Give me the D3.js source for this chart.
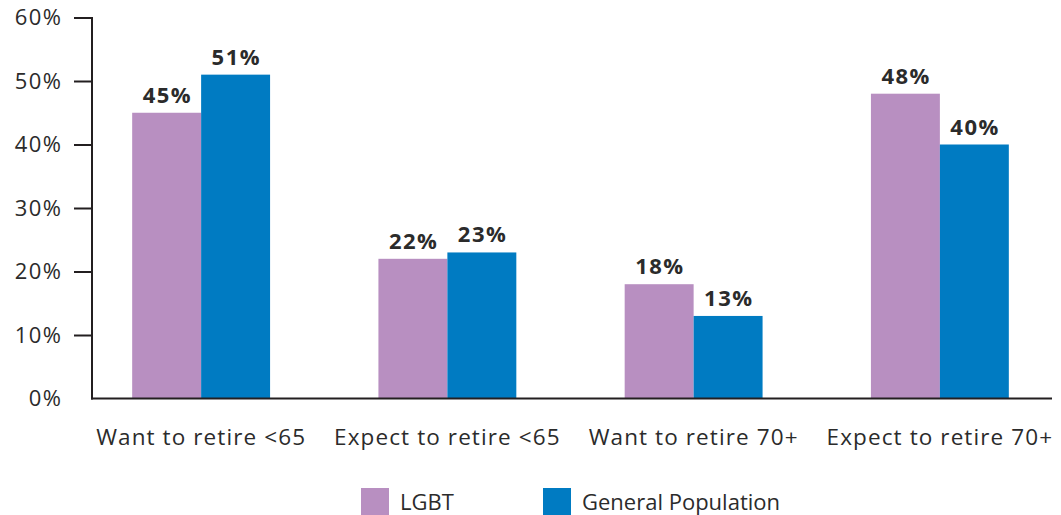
<!DOCTYPE html>
<html><head><meta charset="utf-8">
<script src="https://cdn.jsdelivr.net/npm/d3@7"></script>
<style>body{margin:0;background:#fff}svg{display:block}</style>
</head><body>
<svg id="c" width="1061" height="515"></svg>
<script>
const categories = ["Want to retire <65","Expect to retire <65","Want to retire 70+","Expect to retire 70+"];
const seriesNames = ["LGBT","General Population"];
const lgbt = [45,22,18,48];
const general = [51,23,13,40];
const yTicks = [0,10,20,30,40,50,60];
const colors = ["#b88fc1","#007bc2"];

const svg = d3.select("#c");
const font = "'Open Sans', 'Noto Sans', sans-serif";
const textColor = "#2b2b2b";

const y = d3.scaleLinear().domain([0,60]).range([398.5,17.5]);
const x0 = d3.scaleBand().domain(categories).range([78,1063]).paddingInner(0.44).paddingOuter(0.22);
const x1 = d3.scaleBand().domain(seriesNames).range([0,x0.bandwidth()]);

const data = categories.map((c,i)=>({cat:c, vals:[lgbt[i],general[i]]}));

const g = svg.append("g").selectAll("g").data(data).join("g")
  .attr("transform",d=>`translate(${x0(d.cat)},0)`);
g.selectAll("rect").data(d=>d.vals.map((v,j)=>({v,s:seriesNames[j],j}))).join("rect")
  .attr("x",d=>x1(d.s)).attr("width",x1.bandwidth())
  .attr("y",d=>y(d.v)).attr("height",d=>y(0)-y(d.v))
  .attr("fill",d=>colors[d.j]);
g.selectAll("text").data(d=>d.vals.map((v,j)=>({v,s:seriesNames[j],j}))).join("text")
  .attr("x",d=>x1(d.s)+x1.bandwidth()/2+0.75).attr("y",d=>y(d.v)-10)
  .attr("text-anchor","middle").attr("font-family",font).attr("font-weight","bold")
  .attr("font-size",22).attr("letter-spacing","1.5px").attr("fill",textColor).text(d=>d.v+"%");

// y axis
const yAxis = d3.axisLeft(y).tickValues(yTicks.filter(t=>t>0)).tickSize(18).tickSizeOuter(0).tickFormat(d=>d+"%").tickPadding(11.5);
const ya = svg.append("g").attr("transform","translate(92,0)").call(yAxis);
ya.select(".domain").remove();
ya.selectAll(".tick line").attr("stroke","#231f20").attr("stroke-width",2);
ya.selectAll(".tick text").attr("font-family",font).attr("font-size",22).attr("letter-spacing","1.5px").attr("fill",textColor);
// 0% label without tick
svg.append("text").attr("x",62.5).attr("y",y(0)).attr("dy","0.32em").attr("text-anchor","end")
  .attr("font-family",font).attr("font-size",22).attr("letter-spacing","1.5px").attr("fill",textColor).text(yTicks[0]+"%");
svg.append("line").attr("x1",92).attr("x2",92).attr("y1",y(60)-0.5).attr("y2",y(0)+1)
  .attr("stroke","#231f20").attr("stroke-width",2);

// x axis
const xAxis = d3.axisBottom(x0).tickSize(0).tickPadding(31);
const xa = svg.append("g").attr("transform",`translate(0,${y(0)})`).call(xAxis);
xa.select(".domain").remove();
xa.selectAll(".tick text").attr("font-family",font).attr("font-size",22.5).attr("letter-spacing","1.1px").attr("fill",textColor);
svg.append("line").attr("x1",91).attr("x2",1052).attr("y1",y(0)).attr("y2",y(0))
  .attr("stroke","#231f20").attr("stroke-width",2);

// legend
const legX = [361,543];
const lg = svg.append("g").selectAll("g").data(seriesNames).join("g")
  .attr("transform",(d,i)=>`translate(${legX[i]},488)`);
lg.append("rect").attr("width",28).attr("height",27).attr("fill",(d,i)=>colors[i]);
lg.append("text").attr("x",39).attr("y",14).attr("dy","0.35em")
  .attr("font-family",font).attr("font-size",22).attr("fill",textColor).text(d=>d);
</script>
</body></html>
